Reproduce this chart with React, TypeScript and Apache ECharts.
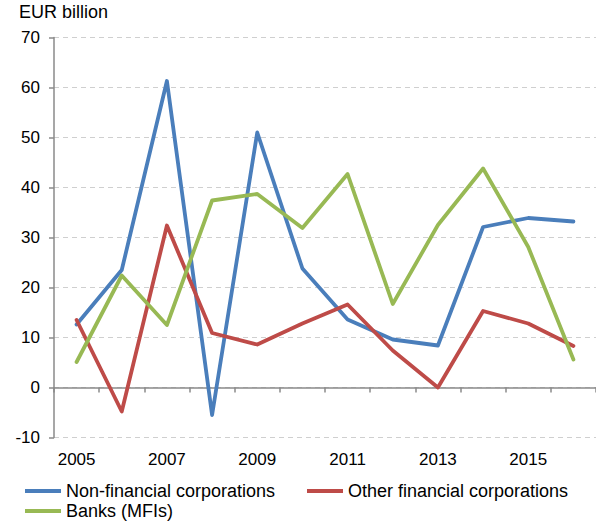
import React, { useEffect, useRef } from "react";
import * as echarts from "echarts";

const years = ["2005", "2006", "2007", "2008", "2009", "2010", "2011", "2012", "2013", "2014", "2015", "2016"];
const nonFinancial = [12.6, 23.5, 61.3, -5.5, 51.0, 23.8, 13.6, 9.6, 8.4, 32.1, 33.9, 33.2];
const otherFinancial = [13.5, -4.8, 32.4, 10.9, 8.6, 12.8, 16.6, 7.4, 0.0, 15.3, 12.8, 8.3];
const banks = [5.1, 22.4, 12.5, 37.4, 38.7, 31.9, 42.7, 16.7, 32.5, 43.8, 28.1, 5.6];

const seriesNames = ["Non-financial corporations", "Other financial corporations", "Banks (MFIs)"];
const seriesColors = ["#4a7ebb", "#be4b48", "#98b954"];
const unitLabel = "EUR billion";

const FONT = "Liberation Sans, Arial, sans-serif";

export default function App() {
  const ref = useRef<HTMLDivElement>(null);
  useEffect(() => {
    if (!ref.current) return;
    const chart = echarts.init(ref.current, null, { renderer: "svg" });
    const data = [nonFinancial, otherFinancial, banks];
    const axisGrey = "#8a8a8a";
    const legendBase = {
      orient: "horizontal" as const,
      itemWidth: 36,
      itemHeight: 4,
      icon: "rect",
      textStyle: { fontFamily: FONT, fontSize: 18, color: "#000" },
      padding: 0,
    };
    chart.setOption({
      animation: false,
      textStyle: { fontFamily: FONT },
      title: {
        text: unitLabel,
        left: 19,
        top: 3,
        padding: 0,
        textStyle: { fontFamily: FONT, fontSize: 18, fontWeight: "normal", color: "#000" },
      },
      legend: [
        { ...legendBase, data: [seriesNames[0]], left: 25, top: 482 },
        { ...legendBase, data: [seriesNames[1]], left: 307, top: 482 },
        { ...legendBase, data: [seriesNames[2]], left: 25, top: 502 },
      ],
      grid: { left: 54, top: 37.5, width: 544, height: 400, containLabel: false },
      xAxis: [
        {
          type: "category",
          data: years,
          position: "bottom",
          axisLine: { show: true, onZero: true, lineStyle: { color: axisGrey, width: 1.5 } },
          axisTick: { show: true, length: 5, inside: false, lineStyle: { color: axisGrey, width: 1.5 } },
          axisLabel: { show: false },
          splitLine: { show: false },
        },
        {
          type: "category",
          data: years,
          position: "bottom",
          axisLine: { show: false, onZero: false },
          axisTick: { show: false },
          axisLabel: {
            show: true,
            interval: 1,
            margin: 13,
            fontFamily: FONT,
            fontSize: 17,
            color: "#000",
          },
          splitLine: { show: false },
        },
      ],
      yAxis: {
        type: "value",
        min: -10,
        max: 70,
        interval: 10,
        axisLine: { show: true, lineStyle: { color: axisGrey, width: 1.5 } },
        axisTick: { show: true, length: 5, lineStyle: { color: axisGrey, width: 1.5 } },
        axisLabel: { margin: 14, fontFamily: FONT, fontSize: 17, color: "#000" },
        splitLine: { show: true, lineStyle: { color: "#cfcfcf", width: 1.2, type: [5, 4] } },
      },
      series: data.map((d, i) => ({
        name: seriesNames[i],
        type: "line",
        data: d,
        xAxisIndex: 0,
        showSymbol: false,
        symbol: "none",
        color: seriesColors[i],
        lineStyle: { color: seriesColors[i], width: 3.8, join: "round", cap: "round" },
      })),
    });
    return () => chart.dispose();
  }, []);
  return (
    <div
      ref={ref}
      style={{ position: "absolute", left: 0, top: 0, width: 596, height: 523, background: "#fff" }}
    />
  );
}
